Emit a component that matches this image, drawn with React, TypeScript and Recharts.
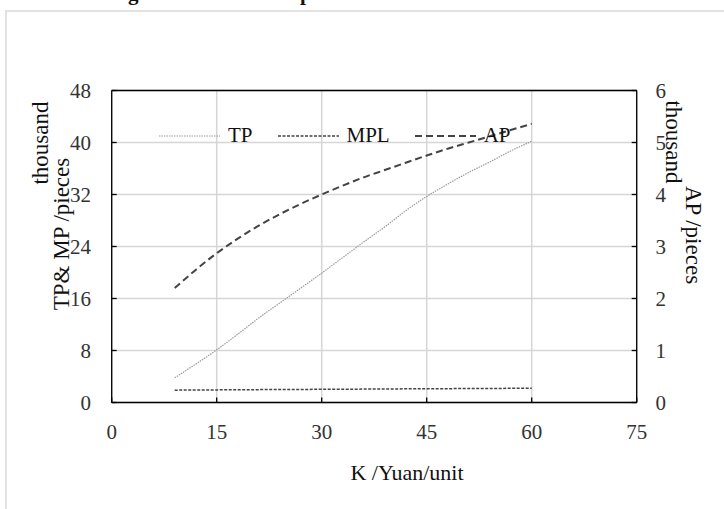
import React from 'react';
import { LineChart, Line, XAxis, YAxis, CartesianGrid, Legend, ReferenceLine } from 'recharts';

const kValues = [9, 12, 15, 18, 21, 24, 27, 30, 33, 36, 39, 42, 45, 48, 51, 54, 57, 60];
const tpValues = [3.8, 5.9, 8.1, 10.5, 13.0, 15.3, 17.6, 19.9, 22.3, 24.7, 27.0, 29.5, 31.7, 33.6, 35.4, 37.0, 38.7, 40.2];
const mplValues = [1.9, 1.92, 1.94, 1.96, 1.98, 2.0, 2.01, 2.03, 2.05, 2.06, 2.08, 2.1, 2.11, 2.13, 2.15, 2.16, 2.18, 2.2];
const apValues = [2.2, 2.55, 2.87, 3.15, 3.4, 3.62, 3.82, 4.0, 4.17, 4.33, 4.47, 4.61, 4.75, 4.88, 5.0, 5.12, 5.24, 5.36];
const xTicks = [0, 15, 30, 45, 60, 75];
const leftTicks = [0, 8, 16, 24, 32, 40, 48];
const rightTicks = [0, 1, 2, 3, 4, 5, 6];
const seriesNames = ['TP', 'MPL', 'AP'];

const data = kValues.map((k, i) => ({ k, tp: tpValues[i], mpl: mplValues[i], ap: apValues[i] }));

const FONT = '"Liberation Serif", "Times New Roman", serif';

const legendStyles: Record<string, { stroke: string; dash: string; width: number }> = {
  TP: { stroke: '#9a9a9a', dash: '1.5 1', width: 1.2 },
  MPL: { stroke: '#444', dash: '3 1.5', width: 1.5 },
  AP: { stroke: '#444', dash: '7 4', width: 2 },
};

const renderLegend = () => (
  <div style={{ display: 'flex', alignItems: 'center', fontFamily: FONT, fontSize: 21, color: '#111', whiteSpace: 'nowrap' }}>
    {seriesNames.map((n) => (
      <div key={n} style={{ display: 'flex', alignItems: 'center', marginRight: 25 }}>
        <svg width={61} height={6} style={{ marginRight: 8 }}>
          <line x1={0} y1={3} x2={61} y2={3} stroke={legendStyles[n].stroke} strokeWidth={legendStyles[n].width} strokeDasharray={legendStyles[n].dash} />
        </svg>
        <span>{n}</span>
      </div>
    ))}
  </div>
);

const labelStyle = (cx: number, cy: number, rot: number, size: number): React.CSSProperties => ({
  position: 'absolute',
  left: cx,
  top: cy,
  transform: `translate(-50%, -50%) rotate(${rot}deg)`,
  fontFamily: FONT,
  fontSize: size,
  color: '#111',
  whiteSpace: 'nowrap',
  lineHeight: 1,
});

const tickStyle = { fontFamily: FONT, fontSize: 21, fill: '#333' };

export default function App() {
  return (
    <div style={{ position: 'absolute', left: 0, top: 0, width: 724, height: 509, overflow: 'hidden', background: '#fff' }}>
      <div style={{ position: 'absolute', left: 5, top: 10, width: 780, height: 560, border: '2px solid #e2e2e2' }} />
      <div style={{ position: 'absolute', left: 0, width: 740, top: -17, textAlign: 'center', fontFamily: FONT, fontWeight: 'bold', fontSize: 21, lineHeight: '21px', color: '#111', whiteSpace: 'nowrap' }}>
        Fig. 4 The relationship between cost and number of shares
      </div>
      <LineChart width={724} height={509} data={data} margin={{ top: 90.5, right: 0, left: 0, bottom: 76.5 }} style={{ position: 'absolute', left: 0, top: 0 }}>
        <CartesianGrid yAxisId="left" stroke="#d6d6d6" strokeWidth={1.5} />
        <XAxis
          dataKey="k"
          type="number"
          domain={[0, 75]}
          ticks={xTicks}
          height={30}
          tickSize={-5}
          tickMargin={27}
          axisLine={{ stroke: '#000', strokeWidth: 1.3 }}
          tickLine={{ stroke: '#000', strokeWidth: 1.3 }}
          tick={tickStyle}
        />
        <YAxis
          yAxisId="left"
          domain={[0, 48]}
          ticks={leftTicks}
          width={111.7}
          tickSize={-5}
          tickMargin={25.7}
          axisLine={{ stroke: '#000', strokeWidth: 1.3 }}
          tickLine={{ stroke: '#000', strokeWidth: 1.3 }}
          tick={tickStyle}
        />
        <YAxis
          yAxisId="right"
          orientation="right"
          domain={[0, 6]}
          ticks={rightTicks}
          width={87.3}
          tickSize={-5}
          tickMargin={23.7}
          axisLine={{ stroke: '#000', strokeWidth: 1.3 }}
          tickLine={{ stroke: '#000', strokeWidth: 1.3 }}
          tick={tickStyle}
        />
        <ReferenceLine yAxisId="left" y={48} stroke="#000" strokeWidth={1.3} />
        <Line yAxisId="left" dataKey="tp" name="TP" type="monotone" stroke={legendStyles.TP.stroke} strokeWidth={legendStyles.TP.width} strokeDasharray={legendStyles.TP.dash} dot={false} isAnimationActive={false} />
        <Line yAxisId="left" dataKey="mpl" name="MPL" type="monotone" stroke={legendStyles.MPL.stroke} strokeWidth={legendStyles.MPL.width} strokeDasharray={legendStyles.MPL.dash} dot={false} isAnimationActive={false} />
        <Line yAxisId="right" dataKey="ap" name="AP" type="monotone" stroke={legendStyles.AP.stroke} strokeWidth={legendStyles.AP.width} strokeDasharray={legendStyles.AP.dash} dot={false} isAnimationActive={false} />
        <Legend layout="vertical" align="center" verticalAlign="middle" content={renderLegend} wrapperStyle={{ position: 'absolute', left: 159, top: 123, width: 'auto' }} />
      </LineChart>
      <div style={labelStyle(40, 143, -90, 23)}>thousand</div>
      <div style={labelStyle(61, 234, -90, 23)}>TP&amp; MP /pieces</div>
      <div style={labelStyle(673, 142, 90, 23)}>thousand</div>
      <div style={labelStyle(693, 235, 90, 23)}>AP /pieces</div>
      <div style={labelStyle(407, 473, 0, 22)}>K /Yuan/unit</div>
    </div>
  );
}
